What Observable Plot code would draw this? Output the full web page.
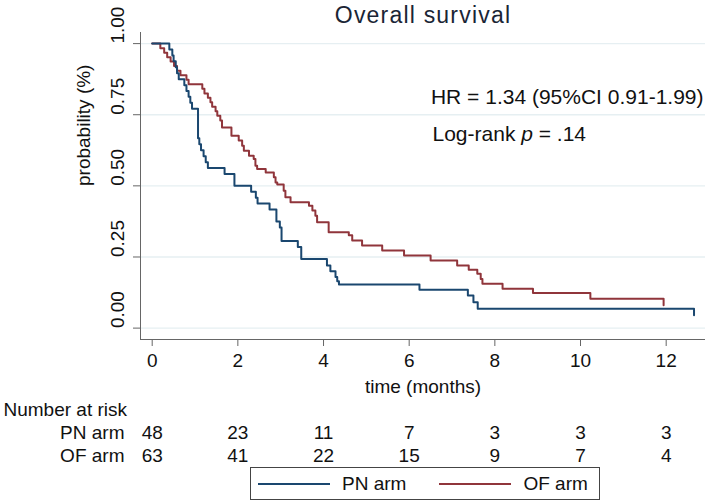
<!DOCTYPE html>
<html>
<head>
<meta charset="utf-8">
<script src="https://cdn.jsdelivr.net/npm/d3@7"></script>
<script src="https://cdn.jsdelivr.net/npm/@observablehq/plot@0.6"></script>
<style>
  body { margin: 0; background: #fff; font-family: "Liberation Sans", Arial, sans-serif; }
  #wrap { position: relative; width: 709px; height: 504px; background: #fff; }
  #legend { position: absolute; left: 250px; top: 467px; width: 350px; height: 33px;
    border: 1px solid #444; box-sizing: border-box; display: flex; align-items: center;
    font-size: 19px; color: #111; font-family: "Liberation Sans", Arial, sans-serif; }
  #legend .sw { display: inline-block; width: 72px; height: 2px; }
</style>
</head>
<body>
<div id="wrap"><div id="chart"></div><div id="legend"></div></div>
<script>
// ---- data ----
const seriesNames = ["PN arm", "OF arm"];
const seriesColors = ["#1a476f", "#90353b"];

const pnTime = [0, 0.40, 0.47, 0.50, 0.55, 0.58, 0.62, 0.75, 0.80, 0.85,
  0.89, 0.93, 1.07, 1.10, 1.14, 1.20, 1.25, 1.30, 1.69, 1.92,
  2.31, 2.42, 2.46, 2.74, 2.90, 2.98, 3.02, 3.40, 3.48, 4.08,
  4.16, 4.28, 4.32, 4.36, 6.24, 7.37, 7.50, 7.60, 12.65];
const pnSurv = [1, 0.979, 0.958, 0.938, 0.917, 0.896, 0.875, 0.854, 0.833, 0.813,
  0.792, 0.771, 0.667, 0.646, 0.625, 0.604, 0.583, 0.563, 0.542, 0.500,
  0.479, 0.458, 0.438, 0.417, 0.375, 0.354, 0.306, 0.285, 0.243, 0.220,
  0.200, 0.180, 0.165, 0.153, 0.135, 0.115, 0.091, 0.068, 0.045];

const ofTime = [0, 0.19, 0.28, 0.35, 0.43, 0.51, 0.58, 0.66, 0.80, 0.85,
  1.17, 1.22, 1.30, 1.36, 1.40, 1.48, 1.52, 1.59, 1.63, 1.85,
  2.02, 2.10, 2.14, 2.26, 2.37, 2.41, 2.45, 2.65, 2.84, 2.88,
  2.92, 3.07, 3.11, 3.23, 3.66, 3.74, 3.81, 3.85, 4.12, 4.59,
  4.67, 4.90, 5.37, 5.88, 6.50, 7.12, 7.39, 7.59, 7.67, 7.71,
  8.18, 8.89, 10.23, 11.94];
const ofSurv = [1, 0.984, 0.968, 0.952, 0.937, 0.921, 0.905, 0.889, 0.873, 0.857,
  0.841, 0.825, 0.810, 0.794, 0.778, 0.762, 0.746, 0.730, 0.705, 0.676,
  0.659, 0.641, 0.623, 0.606, 0.594, 0.571, 0.559, 0.547, 0.530, 0.512,
  0.505, 0.483, 0.460, 0.442, 0.430, 0.413, 0.395, 0.372, 0.337, 0.326,
  0.308, 0.290, 0.273, 0.255, 0.238, 0.220, 0.205, 0.191, 0.173, 0.156,
  0.138, 0.123, 0.103, 0.080];

const riskTimes = [0, 2, 4, 6, 8, 10, 12];
const pnRisk = [48, 23, 11, 7, 3, 3, 3];
const ofRisk = [63, 41, 22, 15, 9, 7, 4];

const xTicks = [0, 2, 4, 6, 8, 10, 12];
const yTicks = [0, 0.25, 0.5, 0.75, 1];
const xDomain = [-0.273, 12.918];
const yDomain = [-0.04, 1.039];

const titleText = "Overall survival";
const hrText = "HR = 1.34 (95%CI 0.91-1.99)";
const pText = "Log-rank p = .14";
const xLabel = "time (months)";
const yLabel = "probability (%)";
const riskLabel = "Number at risk";

// ---- tables ----
const pn = pnTime.map((t, i) => ({t, s: pnSurv[i]}));
const of = ofTime.map((t, i) => ({t, s: ofSurv[i]}));
const pnRows = riskTimes.map((t, i) => ({t, n: pnRisk[i]}));
const ofRows = riskTimes.map((t, i) => ({t, n: ofRisk[i]}));

const font = '"Liberation Sans", Arial, sans-serif';
const ink = "#111";
const fs = 19;

const chart = Plot.plot({
  width: 709,
  height: 464,
  marginLeft: 140,
  marginRight: 4,
  marginTop: 32,
  marginBottom: 125,
  style: {fontFamily: font, fontSize: "19px", color: "#666", background: "#fff"},
  x: {domain: xDomain, ticks: xTicks, tickSize: 7, tickFormat: () => "", label: null},
  y: {domain: yDomain, ticks: yTicks, tickSize: 7, tickFormat: () => "", label: null},
  marks: [
    Plot.ruleY(yTicks, {y: d => d, stroke: "#e6eff2", strokeWidth: 1.3}),
    Plot.ruleX([xDomain[0]], {x: d => d, stroke: "#666"}),
    Plot.ruleY([yDomain[0]], {y: d => d, stroke: "#666"}),
    Plot.line(of, {x: "t", y: "s", curve: "step-after", stroke: seriesColors[1], strokeWidth: 2}),
    Plot.line(pn, {x: "t", y: "s", curve: "step-after", stroke: seriesColors[0], strokeWidth: 2}),
    // tick labels
    Plot.text(xTicks, {x: d => d, text: d => String(d), frameAnchor: "bottom", lineAnchor: "top", dy: 14, fill: ink, fontSize: fs}),
    Plot.text(yTicks, {y: d => d, text: d => d3.format(".2f")(d), frameAnchor: "left", rotate: -90, dx: -23, fill: ink, fontSize: fs}),
    // axis titles
    Plot.text([yLabel], {text: d => d, frameAnchor: "left", rotate: -90, dx: -57, fill: ink, fontSize: fs}),
    Plot.text([xLabel], {text: d => d, frameAnchor: "bottom", lineAnchor: "bottom", dy: 53, fill: ink, fontSize: fs}),
    // title
    Plot.text([titleText], {text: d => d, frameAnchor: "top", lineAnchor: "bottom", dy: -10, fill: "#1a2535", fontSize: 23}),
    // annotations
    Plot.text([hrText], {text: d => d, frameAnchor: "top-right", textAnchor: "end", lineAnchor: "bottom", dx: -2, dy: 71, fill: ink, fontSize: 21}),
    Plot.text([pText], {text: d => d, frameAnchor: "top-left", textAnchor: "start", lineAnchor: "bottom", dx: 292, dy: 108, fill: ink, fontSize: 21}),
    // number at risk
    Plot.text([riskLabel], {text: d => d, frameAnchor: "bottom-left", textAnchor: "start", lineAnchor: "bottom", dx: -137, dy: 76, fill: ink, fontSize: fs}),
    Plot.text([seriesNames[0]], {text: d => d, frameAnchor: "bottom-left", textAnchor: "end", lineAnchor: "bottom", dx: -16, dy: 99, fill: ink, fontSize: fs}),
    Plot.text([seriesNames[1]], {text: d => d, frameAnchor: "bottom-left", textAnchor: "end", lineAnchor: "bottom", dx: -16, dy: 122, fill: ink, fontSize: fs}),
    Plot.text(pnRows, {x: "t", text: "n", frameAnchor: "bottom", lineAnchor: "bottom", dy: 99, fill: ink, fontSize: fs}),
    Plot.text(ofRows, {x: "t", text: "n", frameAnchor: "bottom", lineAnchor: "bottom", dy: 122, fill: ink, fontSize: fs})
  ]
});

// style tweaks: title spacing and italic p
const svg = d3.select(chart);
svg.selectAll("text").filter(function () { return this.textContent === titleText; })
  .attr("letter-spacing", "1.2px");
svg.selectAll("text").filter(function () { return this.textContent === pText; })
  .each(function () {
    const el = d3.select(this);
    el.text(null);
    el.append("tspan").text("Log-rank ");
    el.append("tspan").attr("font-style", "italic").text("p");
    el.append("tspan").text(" = .14");
  });

document.getElementById("chart").appendChild(chart);

// legend
const legend = d3.select("#legend");
seriesNames.forEach((name, i) => {
  legend.append("span").attr("class", "sw")
    .style("background", seriesColors[i])
    .style("margin-left", i === 0 ? "7px" : "33px")
    .style("margin-right", "12px");
  legend.append("span").text(name);
});
</script>
</body>
</html>
